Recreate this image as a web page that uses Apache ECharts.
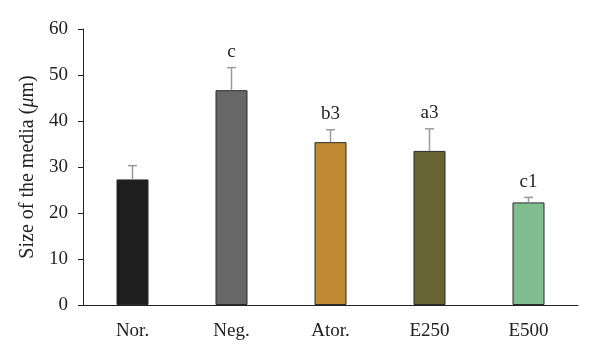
<!DOCTYPE html>
<html><head><meta charset="utf-8">
<script src="https://cdn.jsdelivr.net/npm/echarts@6/dist/echarts.min.js"></script>
<style>html,body{margin:0;padding:0;background:#fff}#c{width:600px;height:362px}</style>
</head><body><div id="c"></div>
<script>
const categories = ['Nor.', 'Neg.', 'Ator.', 'E250', 'E500'];
const means = [27.3, 46.7, 35.4, 33.5, 22.3];
const errors = [3.0, 4.9, 2.7, 4.8, 1.1];
const sigLabels = ['', 'c', 'b3', 'a3', 'c1'];
const colors = ['#1e1e1e', '#676767', '#c08a32', '#686433', '#80bd8f'];
const yTicks = [0, 10, 20, 30, 40, 50, 60];

const FONT = '"Liberation Serif", "DejaVu Serif", serif';
const FS = 19;
const chart = echarts.init(document.getElementById('c'));
chart.setOption({
  animation: false,
  grid: { left: 83, right: 22, top: 29, bottom: 57 },
  xAxis: {
    type: 'category', data: categories,
    axisLine: { lineStyle: { color: '#222', width: 1 } },
    axisTick: { length: 6, lineStyle: { color: '#222' } },
    axisLabel: { color: '#222', fontFamily: FONT, fontSize: FS, margin: 17 }
  },
  yAxis: {
    type: 'value', min: yTicks[0], max: yTicks[yTicks.length - 1], interval: 10,
    name: '{n|Size of the media (}{i|μ}{n|m)}',
    nameLocation: 'middle', nameGap: 45,
    nameTextStyle: {
      rich: {
        n: { fontFamily: FONT, fontSize: 20, color: '#222' },
        i: { fontFamily: FONT, fontSize: 20, color: '#222', fontStyle: 'italic' }
      }
    },
    axisLine: { show: true, lineStyle: { color: '#222', width: 1 } },
    axisTick: { show: true, length: 5, lineStyle: { color: '#222' } },
    splitLine: { show: false },
    axisLabel: { color: '#222', fontFamily: FONT, fontSize: FS, margin: 15 }
  },
  series: [
    {
      type: 'bar', barWidth: 32,
      data: means.map((v, i) => ({ value: v, itemStyle: { color: colors[i] } })),
      itemStyle: { borderColor: '#2a2a2a', borderWidth: 1 }
    },
    {
      type: 'custom',
      data: means.map((v, i) => [i, v, v + errors[i]]),
      renderItem: function (params, api) {
        const base = api.coord([api.value(0), api.value(1)]);
        const top = api.coord([api.value(0), api.value(2)]);
        const half = 4.5;
        const label = sigLabels[params.dataIndex];
        const children = [
          { type: 'line', shape: { x1: base[0], y1: base[1], x2: top[0], y2: top[1] }, style: { stroke: '#9a9a9a', lineWidth: 1.5 } },
          { type: 'line', shape: { x1: top[0] - half, y1: top[1], x2: top[0] + half, y2: top[1] }, style: { stroke: '#9a9a9a', lineWidth: 1.5 } }
        ];
        if (label) {
          children.push({ type: 'text', x: top[0], y: top[1] - 6, style: { text: label, fill: '#222', font: FS + 'px ' + FONT, textAlign: 'center', textVerticalAlign: 'bottom' } });
        }
        return { type: 'group', children: children };
      },
      z: 3
    }
  ]
});
</script></body></html>
